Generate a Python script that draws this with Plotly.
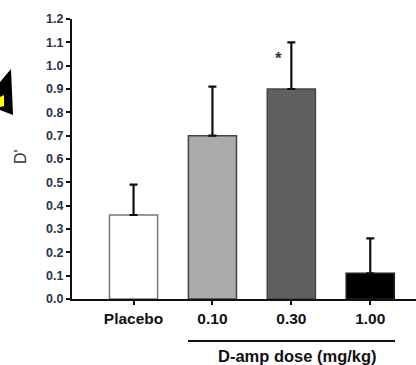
import plotly.graph_objects as go

categories = ["Placebo", "0.10", "0.30", "1.00"]
values = [0.36, 0.70, 0.90, 0.11]
errors = [0.13, 0.21, 0.20, 0.15]
fills = ["#ffffff", "#aaaaaa", "#606060", "#000000"]
outlines = ["#777777", "#444444", "#444444", "#222222"]
y_ticks = [round(i * 0.1, 1) for i in range(13)]
y_ticklabels = [f"{v:.1f}" for v in y_ticks]

W, H = 416, 365
L, R, T, B = 72, 0, 19, 66
pw, ph = W - L - R, H - T - B

def px(x):
    return (x - L) / pw

def py(y):
    return (H - B - y) / ph

FONT = "Liberation Sans, Arial, sans-serif"

fig = go.Figure()
fig.add_trace(go.Bar(
    x=list(range(len(categories))),
    y=values,
    width=0.61,
    marker=dict(color=fills, line=dict(color=outlines, width=1.5)),
    error_y=dict(type="data", array=errors, arrayminus=[0] * 4, symmetric=False,
                 color="#111111", thickness=2.2, width=4),
    showlegend=False,
))

fig.update_layout(
    width=W, height=H,
    margin=dict(l=L, r=R, t=T, b=B),
    paper_bgcolor="white", plot_bgcolor="white",
    font=dict(family=FONT),
    xaxis=dict(
        range=[-0.78, 3.58],
        tickmode="array", tickvals=list(range(len(categories))), ticktext=categories,
        ticks="outside", ticklen=4, tickwidth=1.5, tickcolor="#111111",
        tickfont=dict(size=15.5, color="#111111", family=FONT, weight="bold"),
        showline=True, linecolor="#111111", linewidth=2,
        showgrid=False, zeroline=False, fixedrange=True,
    ),
    yaxis=dict(
        range=[0, 1.2],
        tickmode="array", tickvals=y_ticks, ticktext=y_ticklabels,
        ticks="outside", ticklen=4, tickwidth=1.5, tickcolor="#111111",
        tickfont=dict(size=12.5, color="#2e3140", family=FONT, weight="bold"),
        showline=True, linecolor="#111111", linewidth=2,
        showgrid=False, zeroline=False, fixedrange=True,
    ),
)

# Y-axis title
fig.add_annotation(text="D'", x=px(20), y=py(157), xref="paper", yref="paper",
                   xanchor="center", yanchor="middle",
                   showarrow=False, textangle=-90,
                   font=dict(size=16, color="#333333"))

# significance star
fig.add_annotation(text="*", x=2, y=1.03, xref="x", yref="y", xshift=-13,
                   xanchor="center", yanchor="middle",
                   showarrow=False, font=dict(size=17, color="#333344", weight="bold"))

# bracket line under doses and label
fig.add_shape(type="line", xref="paper", yref="paper",
              x0=px(188), x1=px(395), y0=py(341), y1=py(341),
              line=dict(color="#111111", width=2))
fig.add_annotation(text="D-amp dose (mg/kg)", x=px(297), y=py(356), xref="paper", yref="paper",
                   xanchor="center", yanchor="middle",
                   showarrow=False,
                   font=dict(size=16.5, color="#111111", weight="bold"))

# partial yellow/black arrow at left edge
fig.add_shape(type="path", xref="paper", yref="paper",
              path=f"M {px(0)},{py(82)} L {px(11)},{py(69)} L {px(13)},{py(115)} L {px(0)},{py(110)} Z",
              fillcolor="#000000", line=dict(width=0))
fig.add_shape(type="path", xref="paper", yref="paper",
              path=f"M {px(0)},{py(97)} L {px(4)},{py(95)} L {px(4)},{py(106)} L {px(0)},{py(107)} Z",
              fillcolor="#ffff00", line=dict(width=0))

fig.write_html("out.html", config={"displayModeBar": False},
               post_script="document.body.style.margin='0px';document.body.style.overflow='hidden';")
